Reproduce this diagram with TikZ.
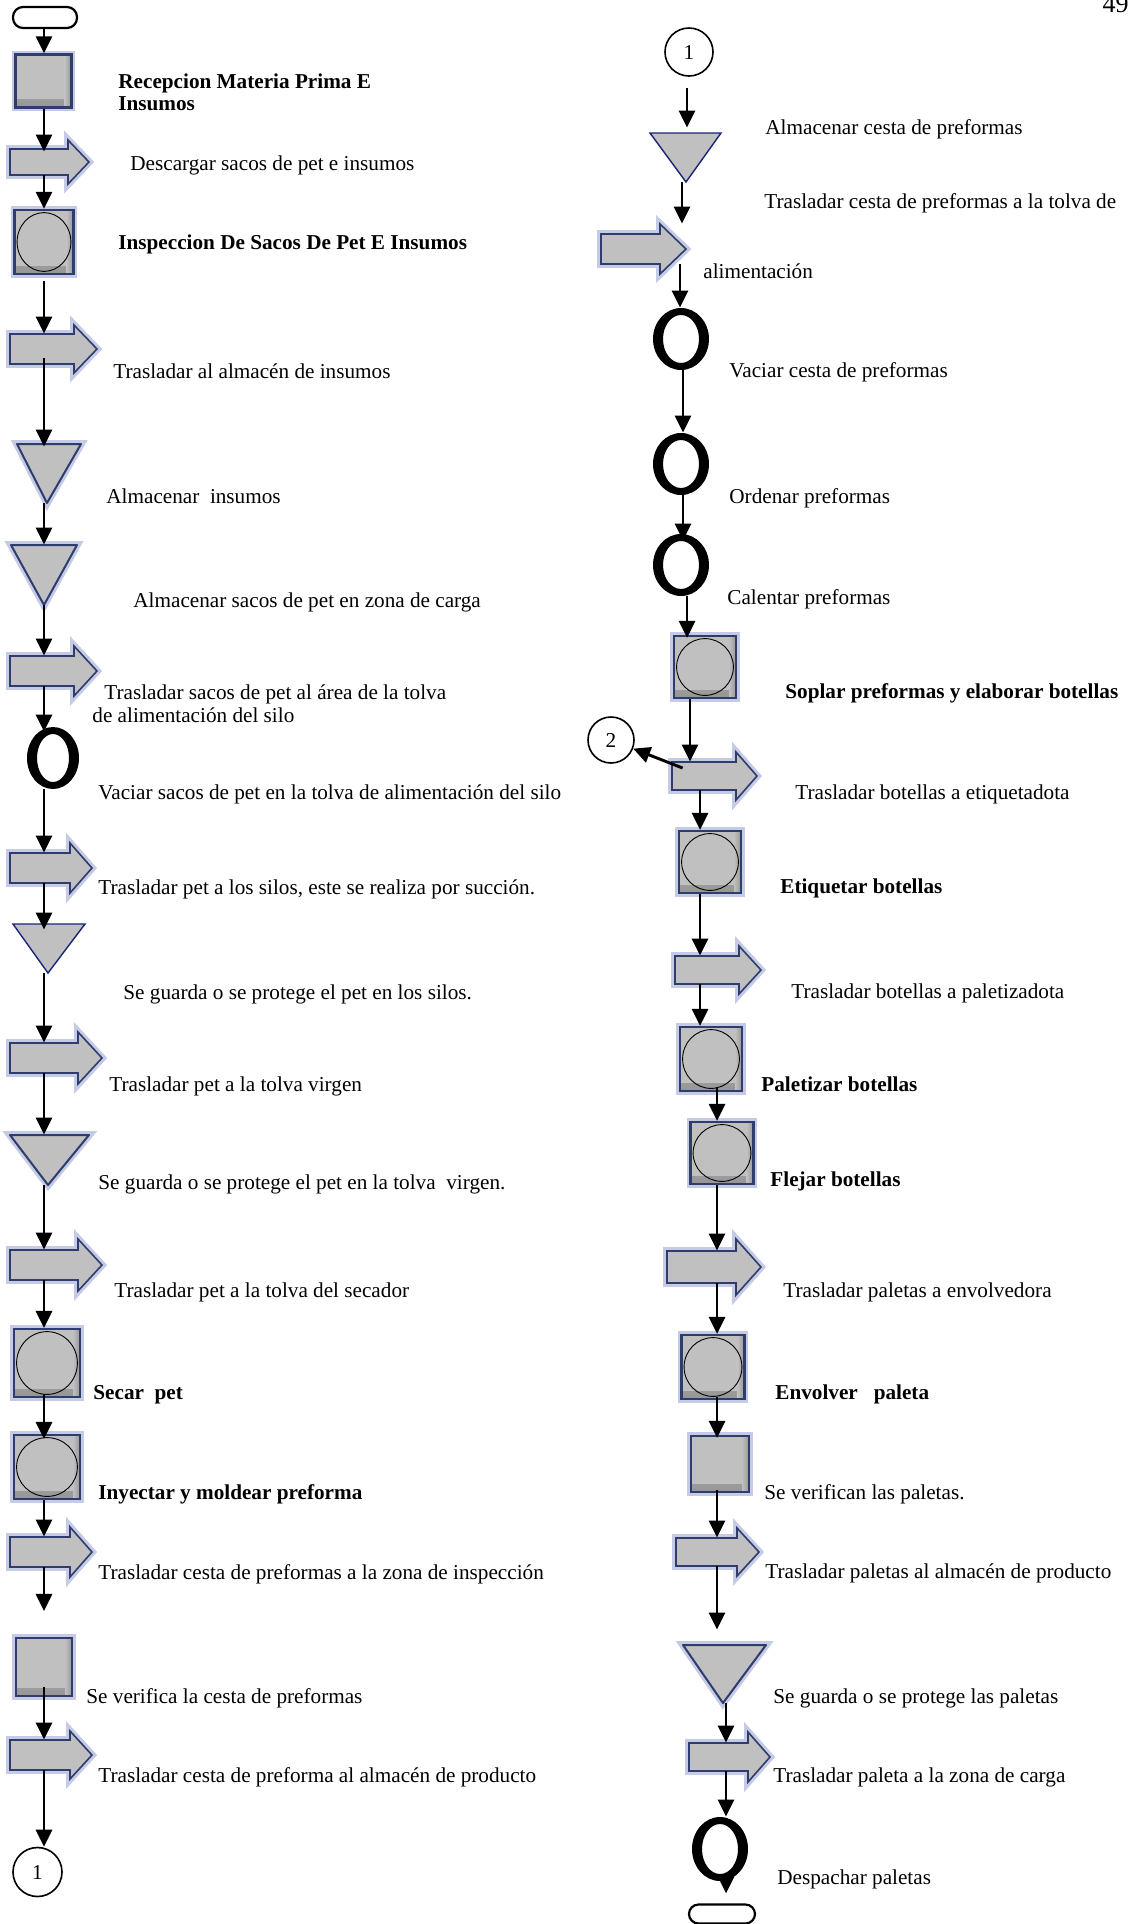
\documentclass[tikz,border=0pt]{standalone}
\usepackage{fontspec}
\setmainfont{Liberation Serif}
\usetikzlibrary{arrows.meta,shapes.geometric,fit,calc}
\definecolor{pgray}{RGB}{192,192,192}
\definecolor{navy}{RGB}{47,61,110}
\definecolor{glowc}{RGB}{140,150,205}
\definecolor{flatblue}{RGB}{25,35,120}
\tikzset{
 flow/.style={line width=1.45pt,-{Triangle[length=8.5pt,width=8pt]}},
 glowy/.style={preaction={draw=glowc,line width=3.8pt,opacity=0.5}},
 tstyle/.style={fill=pgray,draw=navy,line width=0.8pt,line join=miter,glowy},
 procbox/.style={rectangle,inner sep=0pt,fill=pgray,draw=navy,line width=1.1pt,glowy,
   path picture={\shade[top color=pgray,bottom color=pgray!78!black]
     ([yshift=4pt]path picture bounding box.south west) rectangle (path picture bounding box.south east);
     \shade[left color=pgray,right color=pgray!78!black]
     ([xshift=-3.5pt]path picture bounding box.north east) rectangle (path picture bounding box.south east);}},
 tri/.style={fill=pgray,draw=navy,line width=1pt,line join=round,glowy},
 flattri/.style={fill=pgray,draw=flatblue,line width=0.7pt},
 lbl/.style={inner sep=0pt,anchor=base west,font=\fontsize{10.6}{11}\selectfont},
 blbl/.style={lbl,font=\fontsize{10.6}{11}\selectfont\bfseries},
 conn/.style={circle,draw,line width=0.8pt,inner sep=0pt,font=\fontsize{10.6}{11}\selectfont},
 term/.style={rectangle,draw,line width=1.1pt,inner sep=0pt,rounded corners=5pt,minimum width=32pt,minimum height=10.5pt}
}
% name, xl, yc, xbase, xtip, body half, head half
\newcommand\mktrans[7]{%
 \draw[tstyle] (#2,#3-#6) -- (#4,#3-#6) -- (#4,#3-#7) -- (#5,#3) -- (#4,#3+#7) -- (#4,#3+#6) -- (#2,#3+#6) -- cycle;
 \node[fit={(#2,#3-#6) (#4,#3+#6)},inner sep=0pt] (#1) {};}
% name, xl, xr, top, apex x, apex y, style
\newcommand\mkstore[7]{%
 \draw[#7] (#2,#4) -- (#3,#4) -- (#5,#6) -- cycle;
 \node[fit={(#2,#4) (#3,#6)},inner sep=0pt] (#1) {};}
\newcommand\mkbox[5]{\node[procbox,minimum width=#4,minimum height=#5] (#1) at (#2,#3) {};}
\newcommand\mkboxc[5]{\mkbox{#1}{#2}{#3}{#4}{#5}%
 \draw[line width=0.45pt] (#1.center) ellipse [x radius=#4/2-1.3pt, y radius=#5/2-1.3pt];}
% name, cx, cy, w, h (px)
\newcommand\mkring[5]{%
 \node[ellipse,inner sep=0pt,minimum width=#4*0.5pt,minimum height=#5*0.5pt] (#1) at (#2,#3) {};
 \fill[black,even odd rule] (#1.center) ellipse [x radius=#4*0.25pt, y radius=#5*0.25pt]
   (#1.center) ellipse [x radius=#4*0.25pt-5pt, y radius=#5*0.25pt-3.5pt];}
\begin{document}
\begin{tikzpicture}[x=0.5pt,y=-0.5pt]
\useasboundingbox (0,0) rectangle (1130,1924);
\fill[white] (0,0) rectangle (1130,1924);
% ---------- left column ----------
\node[term] (L0) at (45,17.5) {};
\mkbox{L1}{43.5}{81}{28pt}{26.5pt}
\mktrans{LA1}{10}{162}{68}{89}{13}{22}
\mkboxc{L2}{44}{242}{29.5pt}{32pt}
\mktrans{LA2}{10}{349}{74}{97}{15}{24}
\mkstore{LT1}{17}{81}{444}{47}{503}{tri}
\mkstore{LT2}{11}{77}{545}{44}{605}{tri}
\mktrans{LA3}{10}{671}{74}{97}{15}{25}
\mkring{LO1}{53}{758}{52}{62}
\mktrans{LA4}{10}{868}{70}{92}{15}{25}
\mkstore{LT3}{13}{85}{924}{48}{973}{flattri}
\mktrans{LA5}{10}{1058}{78}{102}{15}{26}
\mkstore{LT4}{10}{89}{1135}{48}{1185}{tri}
\mktrans{LA6}{10}{1265}{78}{102}{15}{26}
\mkboxc{L3}{47}{1363}{33pt}{34pt}
\mkboxc{L4}{47}{1467}{33pt}{32pt}
\mktrans{LA7}{10}{1552}{70}{92}{15}{25}
\mkbox{L5}{44}{1667}{28pt}{29pt}
\mktrans{LA8}{10}{1755}{70}{92}{15}{24}
\node[conn,minimum size=24.5pt] (LC1) at (37.5,1872) {1};
% ---------- right column ----------
\node[conn,minimum size=24pt] (RC1) at (689,52) {1};
\mkstore{RT1}{650}{721}{133}{686}{182}{flattri}
\mktrans{RA1}{601}{249}{660}{686}{15}{25}
\mkring{RO1}{681}{339}{56}{62}
\mkring{RO2}{681}{464}{56}{62}
\mkring{RO3}{681}{565}{56}{62}
\mkboxc{RS1}{705}{667}{31pt}{31pt}
\node[conn,minimum size=23pt] (RC2) at (611,740) {2};
\mktrans{RA2}{672}{776}{736}{757}{14}{24}
\mkboxc{RS2}{710}{862}{31pt}{31pt}
\mktrans{RA3}{675}{970}{739}{761}{14}{24}
\mkboxc{RS3}{711}{1059}{31pt}{32pt}
\mkboxc{RS4}{722}{1153}{31.5pt}{31pt}
\mktrans{RA4}{667}{1267}{736}{761}{16}{28}
\mkboxc{RS5}{713}{1367}{31.5pt}{32pt}
\mkbox{RS6}{720}{1464}{29pt}{28pt}
\mktrans{RA5}{676}{1552}{737}{759}{14}{24}
\mkstore{RT2}{683}{766}{1645}{723}{1703}{tri}
\mktrans{RA6}{689}{1757}{748}{770}{14}{25}
\mkring{RO4}{720}{1849}{56}{64}
\node[term,minimum width=33pt,minimum height=9.5pt,rounded corners=4.75pt] (RE) at (722,1914) {};
% ---------- connectors ----------
\coordinate (xL) at (44,0);
\draw[flow] (L0.south -| xL) -- (L1.north -| xL);
\draw[flow,shorten >=-1.5pt] (L1.south -| xL) -- (LA1.north -| xL);
\draw[flow] (LA1.south -| xL) -- (L2.north -| xL);
\draw[flow,shorten <=3pt] (L2.south -| xL) -- (LA2.north -| xL);
\draw[flow,shorten <=-3pt,shorten >=-1.5pt] (LA2.south -| xL) -- (LT1.north -| xL);
\draw[flow] (LT1.south -| xL) -- (LT2.north -| xL);
\draw[flow] (LT2.south -| xL) -- (LA3.north -| xL);
\draw[flow,shorten >=-2.5pt] (LA3.south -| xL) -- (LO1.north -| xL);
\draw[flow] (LO1.south -| xL) -- (LA4.north -| xL);
\draw[flow,shorten >=-3pt] (LA4.south -| xL) -- (LT3.north -| xL);
\draw[flow] (LT3.south -| xL) -- (LA5.north -| xL);
\draw[flow] (LA5.south -| xL) -- (LT4.north -| xL);
\draw[flow] (LT4.south -| xL) -- (LA6.north -| xL);
\draw[flow] (LA6.south -| xL) -- (L3.north -| xL);
\draw[flow,shorten <=-2pt,shorten >=-2.5pt] (L3.south -| xL) -- (L4.north -| xL);
\draw[flow] (L4.south -| xL) -- (LA7.north -| xL);
\draw[flow,shorten >=13pt] (LA7.south -| xL) -- (L5.north -| xL);
\draw[flow,shorten <=-5pt] (L5.south -| xL) -- (LA8.north -| xL);
\draw[flow] (LA8.south -| xL) -- (LC1.north -| xL);
\coordinate (xa) at (687,0);
\coordinate (xb) at (682,0);
\coordinate (xc) at (680,0);
\coordinate (xd) at (683,0);
\coordinate (xe) at (687,0);
\coordinate (xf) at (690,0);
\coordinate (xg) at (700,0);
\coordinate (xh) at (717,0);
\coordinate (xi) at (726,0);
\draw[flow,shorten <=5.5pt,shorten >=2.5pt] (RC1.south -| xa) -- (RT1.north -| xa);
\draw[flow,shorten >=5pt] (RT1.south -| xb) -- (RA1.north -| xb);
\draw[flow] (RA1.south -| xc) -- (RO1.north -| xc);
\draw[flow] (RO1.south -| xd) -- (RO2.north -| xd);
\draw[flow,shorten >=-3.5pt] (RO2.south -| xd) -- (RO3.north -| xd);
\draw[flow,shorten >=-1.5pt] (RO3.south -| xe) -- (RS1.north -| xe);
\draw[flow] (RS1.south -| xf) -- (RA2.north -| xf);
\draw[flow] ([xshift=5.5pt,yshift=4pt]RA2.west) -- (RC2);
\draw[flow] (RA2.south -| xg) -- (RS2.north -| xg);
\draw[flow] (RS2.south -| xg) -- (RA3.north -| xg);
\draw[flow] (RA3.south -| xg) -- (RS3.north -| xg);
\draw[flow,shorten <=-2.5pt] (RS3.south -| xh) -- (RS4.north -| xh);
\draw[flow] (RS4.south -| xh) -- (RA4.north -| xh);
\draw[flow] (RA4.south -| xh) -- (RS5.north -| xh);
\draw[flow,shorten <=-1.5pt,shorten >=-1.5pt] (RS5.south -| xh) -- (RS6.north -| xh);
\draw[flow,shorten <=-1.5pt] (RS6.south -| xh) -- (RA5.north -| xh);
\draw[flow,shorten >=7.5pt] (RA5.south -| xh) -- (RT2.north -| xh);
\draw[flow] (RT2.south -| xi) -- (RA6.north -| xi);
\draw[flow] (RA6.south -| xi) -- (RO4.north -| xi);
\draw[flow,shorten <=-5pt,shorten >=5pt] (RO4.south -| xi) -- (RE.north -| xi);
% ---------- labels left ----------
\node[blbl] (t01) at (118,88) {Recepcion Materia Prima E};
\node[blbl] (t01b) at (118,110) {Insumos};
\node[lbl] (t02) at (130,170) {Descargar sacos de pet e insumos};
\node[blbl] (t03) at (118,249) {Inspeccion De Sacos De Pet E Insumos};
\node[lbl] (t04) at (113,378) {Trasladar al almacén de insumos};
\node[lbl] (t05) at (106,503) {Almacenar\ \ insumos};
\node[lbl] (t06) at (133,607) {Almacenar sacos de pet en zona de carga};
\node[lbl] (t07) at (104,699) {Trasladar sacos de pet al área de la tolva};
\node[lbl] (t07b) at (92,722) {de alimentación del silo};
\node[lbl] (t08) at (98,799) {Vaciar sacos de pet en la tolva de alimentación del silo};
\node[lbl] (t09) at (98,894) {Trasladar pet a los silos, este se realiza por succión.};
\node[lbl] (t10) at (123,999) {Se guarda o se protege el pet en los silos.};
\node[lbl] (t11) at (109,1091) {Trasladar pet a la tolva virgen};
\node[lbl] (t12) at (98,1189) {Se guarda o se protege el pet en la tolva\ \ virgen.};
\node[lbl] (t13) at (114,1297) {Trasladar pet a la tolva del secador};
\node[blbl] (t14) at (93,1399) {Secar\ \ pet};
\node[blbl] (t15) at (98,1499) {Inyectar y moldear preforma};
\node[lbl] (t16) at (98,1579) {Trasladar cesta de preformas a la zona de inspección};
\node[lbl] (t17) at (86,1703) {Se verifica la cesta de preformas};
\node[lbl] (t18) at (98,1782) {Trasladar cesta de preforma al almacén de producto};
% ---------- labels right ----------
\node[inner sep=0pt,anchor=base east,font=\fontsize{13}{14}\selectfont] (pg) at (1129,12) {49};
\node[lbl] (r01) at (765,134) {Almacenar cesta de preformas};
\node[lbl] (r02) at (764,208) {Trasladar cesta de preformas a la tolva de};
\node[lbl] (r02b) at (703,278) {alimentación};
\node[lbl] (r03) at (729,377) {Vaciar cesta de preformas};
\node[lbl] (r04) at (729,503) {Ordenar preformas};
\node[lbl] (r05) at (727,604) {Calentar preformas};
\node[blbl] (r06) at (785,698) {Soplar preformas y elaborar botellas};
\node[lbl] (r07) at (795,799) {Trasladar botellas a etiquetadota};
\node[blbl] (r08) at (780,893) {Etiquetar botellas};
\node[lbl] (r09) at (791,998) {Trasladar botellas a paletizadota};
\node[blbl] (r10) at (761,1091) {Paletizar botellas};
\node[blbl] (r11) at (770,1186) {Flejar botellas};
\node[lbl] (r12) at (783,1297) {Trasladar paletas a envolvedora};
\node[blbl] (r13) at (775,1399) {Envolver\ \ \ paleta};
\node[lbl] (r14) at (764,1499) {Se verifican las paletas.};
\node[lbl] (r15) at (765,1578) {Trasladar paletas al almacén de producto};
\node[lbl] (r16) at (773,1703) {Se guarda o se protege las paletas};
\node[lbl] (r17) at (773,1782) {Trasladar paleta a la zona de carga};
\node[lbl] (r18) at (777,1884) {Despachar paletas};
\end{tikzpicture}
\end{document}
